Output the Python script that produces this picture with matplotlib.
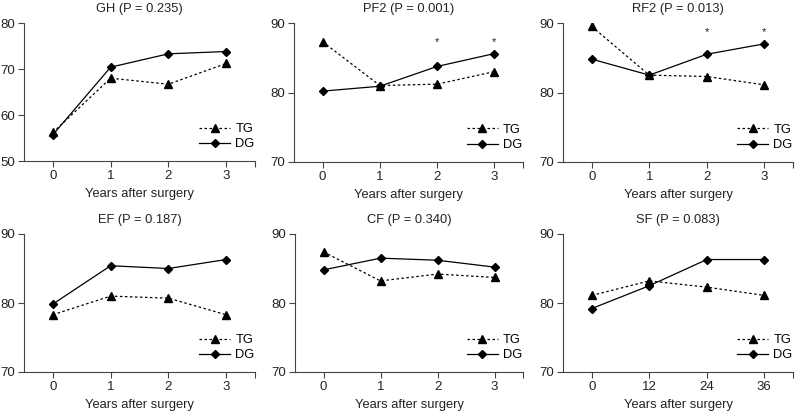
import matplotlib.pyplot as plt
import numpy as np

plt.rcParams['font.family'] = ['Liberation Sans', 'DejaVu Sans']
plt.rcParams['font.size'] = 9.3

# panel titles
titles = ['GH (P = 0.235)', 'PF2 (P = 0.001)', 'RF2 (P = 0.013)',
          'EF (P = 0.187)', 'CF (P = 0.340)', 'SF (P = 0.083)']

# x tick labels per panel
xlabels_years = ['0', '1', '2', '3']
xlabels_months = ['0', '12', '24', '36']

# TG values (dotted, triangles)
tg_values = [
    [56.2, 68.0, 66.7, 71.2],
    [87.3, 81.0, 81.2, 83.0],
    [89.5, 82.5, 82.3, 81.1],
    [78.3, 81.0, 80.7, 78.3],
    [87.4, 83.2, 84.2, 83.7],
    [81.1, 83.2, 82.3, 81.1],
]
# DG values (solid, diamonds)
dg_values = [
    [55.7, 70.4, 73.3, 73.8],
    [80.2, 80.9, 83.75, 85.6],
    [84.8, 82.5, 85.5, 87.0],
    [79.85, 85.4, 85.0, 86.3],
    [84.8, 86.5, 86.2, 85.2],
    [79.2, 82.5, 86.3, 86.3],
]
# y ranges
y_ranges = [(50, 80), (70, 90), (70, 90), (70, 90), (70, 90), (70, 90)]
# significant time points (index) with asterisk height
stars = {1: ([2, 3], 87.3), 2: ([2, 3], 88.75)}

W, H = 796, 413
fig = plt.figure(figsize=(W / 100, H / 100), dpi=100)

# axes boxes in pixels: left, right, top, bottom
boxes = [
    (24, 255, 23, 161), (294, 523, 23, 162), (563, 793, 23, 162),
    (24, 255, 234, 372), (295, 523, 234, 372), (563, 793, 234, 372),
]

col = '#222222'
for i, (l, r, t, b) in enumerate(boxes):
    ax = fig.add_axes([l / W, 1 - b / H, (r - l) / W, (b - t) / H])
    x = np.arange(4)
    ax.plot(x, tg_values[i], ls=(0, (2, 2)), lw=0.9, color='black',
            marker='^', ms=5.5, label='TG')
    ax.plot(x, dg_values[i], ls='-', lw=0.9, color='black',
            marker='D', ms=4.5, label='DG')
    if i in stars:
        idx, yv = stars[i]
        for k in idx:
            ax.text(k, yv, '*', ha='center', va='center', fontsize=8, color=col)
    lo, hi = y_ranges[i]
    ax.set_ylim(lo, hi)
    ax.set_yticks(np.arange(lo, hi + 1, 10))
    ax.set_xlim(-0.5, 3.5)
    ax.set_xticks(x)
    ax.set_xticks([3.5], minor=True)
    ax.set_xticklabels(xlabels_months if i == 5 else xlabels_years)
    ax.spines['top'].set_visible(False)
    ax.spines['right'].set_visible(False)
    for s in ['left', 'bottom']:
        ax.spines[s].set_color('#444444')
        ax.spines[s].set_linewidth(0.8)
    ax.tick_params(which='both', direction='out', length=4, width=0.8,
                   color='#444444', labelcolor=col, labelsize=9.5, pad=2.5)
    ax.set_title(titles[i], fontsize=9.3, color=col, pad=8)
    ax.set_xlabel('Years after surgery', fontsize=9.3, color=col, labelpad=4)
    ax.legend(loc='lower right', frameon=False, fontsize=9.3, handlelength=2.4,
              handletextpad=0.4, labelspacing=0.25, borderaxespad=0.0,
              bbox_to_anchor=(1.02, 0.04))

fig.savefig('out.png', dpi=100)
